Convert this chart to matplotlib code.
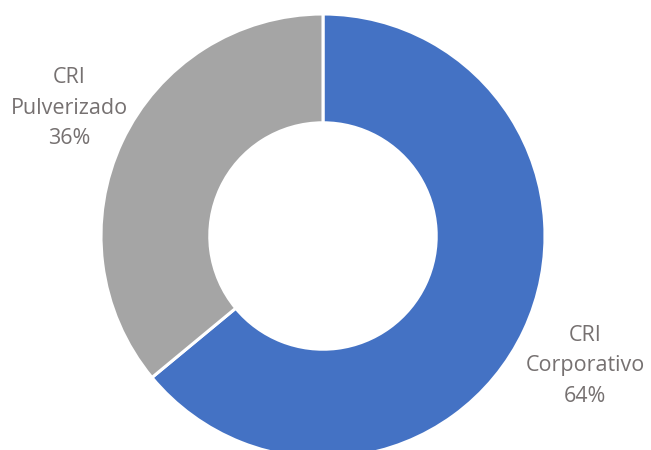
import matplotlib.pyplot as plt

etichete = ["CRI\nCorporativo\n64%", "CRI\nPulverizado\n36%"]
valori = [64, 36]
culori = ["#4472C4", "#A5A5A5"]

W, H = 651, 450
fig = plt.figure(figsize=(W / 100, H / 100), dpi=100)
ax = fig.add_axes([0, 0, 1, 1])
ax.set_xlim(0, W)
ax.set_ylim(0, H)
ax.set_aspect("equal")
ax.axis("off")

cx, cy, r = 323, H - 236, 222
ax.pie(valori, colors=culori, startangle=90, counterclock=False,
       center=(cx, cy), radius=r, frame=True,
       wedgeprops=dict(width=r * 0.49, edgecolor="white", linewidth=2.2))
ax.set_xlim(0, W)
ax.set_ylim(0, H)
ax.axis("off")

text_style = dict(ha="center", va="center", color="#767171", fontsize=15.5,
                  family="Open Sans", linespacing=1.6)
ax.text(585, H - 366, etichete[0], **text_style)
ax.text(69, H - 108, etichete[1], **text_style)

fig.savefig("out.png", dpi=100)
